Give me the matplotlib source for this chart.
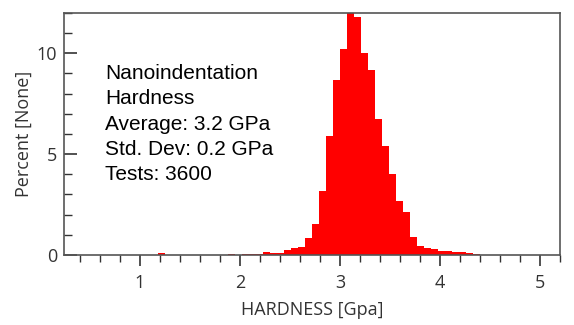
import matplotlib.pyplot as plt
from matplotlib.ticker import MultipleLocator
import numpy as np

# histogram bins (GPa) and percent per bin
bin_start = 1.185
bin_width = 0.07
percent = [0.08, 0, 0, 0, 0, 0, 0, 0, 0, 0,
           0.07, 0, 0.04, 0.06, 0.03, 0.15, 0.10, 0.10, 0.25, 0.35,
           0.40, 0.83, 1.54, 3.15, 5.89, 8.67, 10.23, 12.1, 11.8, 10.0,
           9.17, 6.72, 5.39, 4.03, 2.70, 2.15, 0.91, 0.46, 0.33, 0.30,
           0.20, 0.22, 0.15, 0.17, 0.10, 0.07]
edges = bin_start + bin_width * np.arange(len(percent) + 1)

info = "Nanoindentation\nHardness\nAverage: 3.2 GPa\nStd. Dev: 0.2 GPa\nTests: 3600"

fig = plt.figure(figsize=(5.74, 3.25), dpi=100)
ax = fig.add_axes([0.1115, 0.2154, 0.8641, 0.7446])

ax.stairs(percent, edges, fill=True, color='#ff0000', linewidth=0)

ax.set_xlim(0.24, 5.2)
ax.set_ylim(0, 12)
ax.xaxis.set_major_locator(MultipleLocator(1))
ax.xaxis.set_minor_locator(MultipleLocator(0.2))
ax.yaxis.set_major_locator(MultipleLocator(5))
ax.yaxis.set_minor_locator(MultipleLocator(1))

for s in ax.spines.values():
    s.set_color('#555555')
    s.set_linewidth(1.2)

ax.tick_params(axis='x', which='major', direction='out', length=8, width=1.2, color='#333333',
               labelsize=13, labelcolor='#333333', pad=6)
ax.tick_params(axis='x', which='minor', direction='out', length=5, width=1.0, color='#333333')
ax.tick_params(axis='y', which='major', direction='in', length=9, width=1.2, color='#333333',
               labelsize=13, labelcolor='#333333', pad=5)
ax.tick_params(axis='y', which='minor', direction='in', length=6, width=1.0, color='#333333')
for lab in ax.get_xticklabels() + ax.get_yticklabels():
    lab.set_family('Open Sans')

ax.set_xlabel('HARDNESS [Gpa]', family='Open Sans', fontsize=13, color='#333333', labelpad=6)
ax.set_ylabel('Percent [None]', family='Open Sans', fontsize=13, color='#333333', labelpad=3)

fig.text(105 / 574, 1 - 64 / 325, info, family='Liberation Sans', fontsize=15,
         va='top', ha='left', color='black', linespacing=1.42)

fig.savefig('out.png', dpi=100)
